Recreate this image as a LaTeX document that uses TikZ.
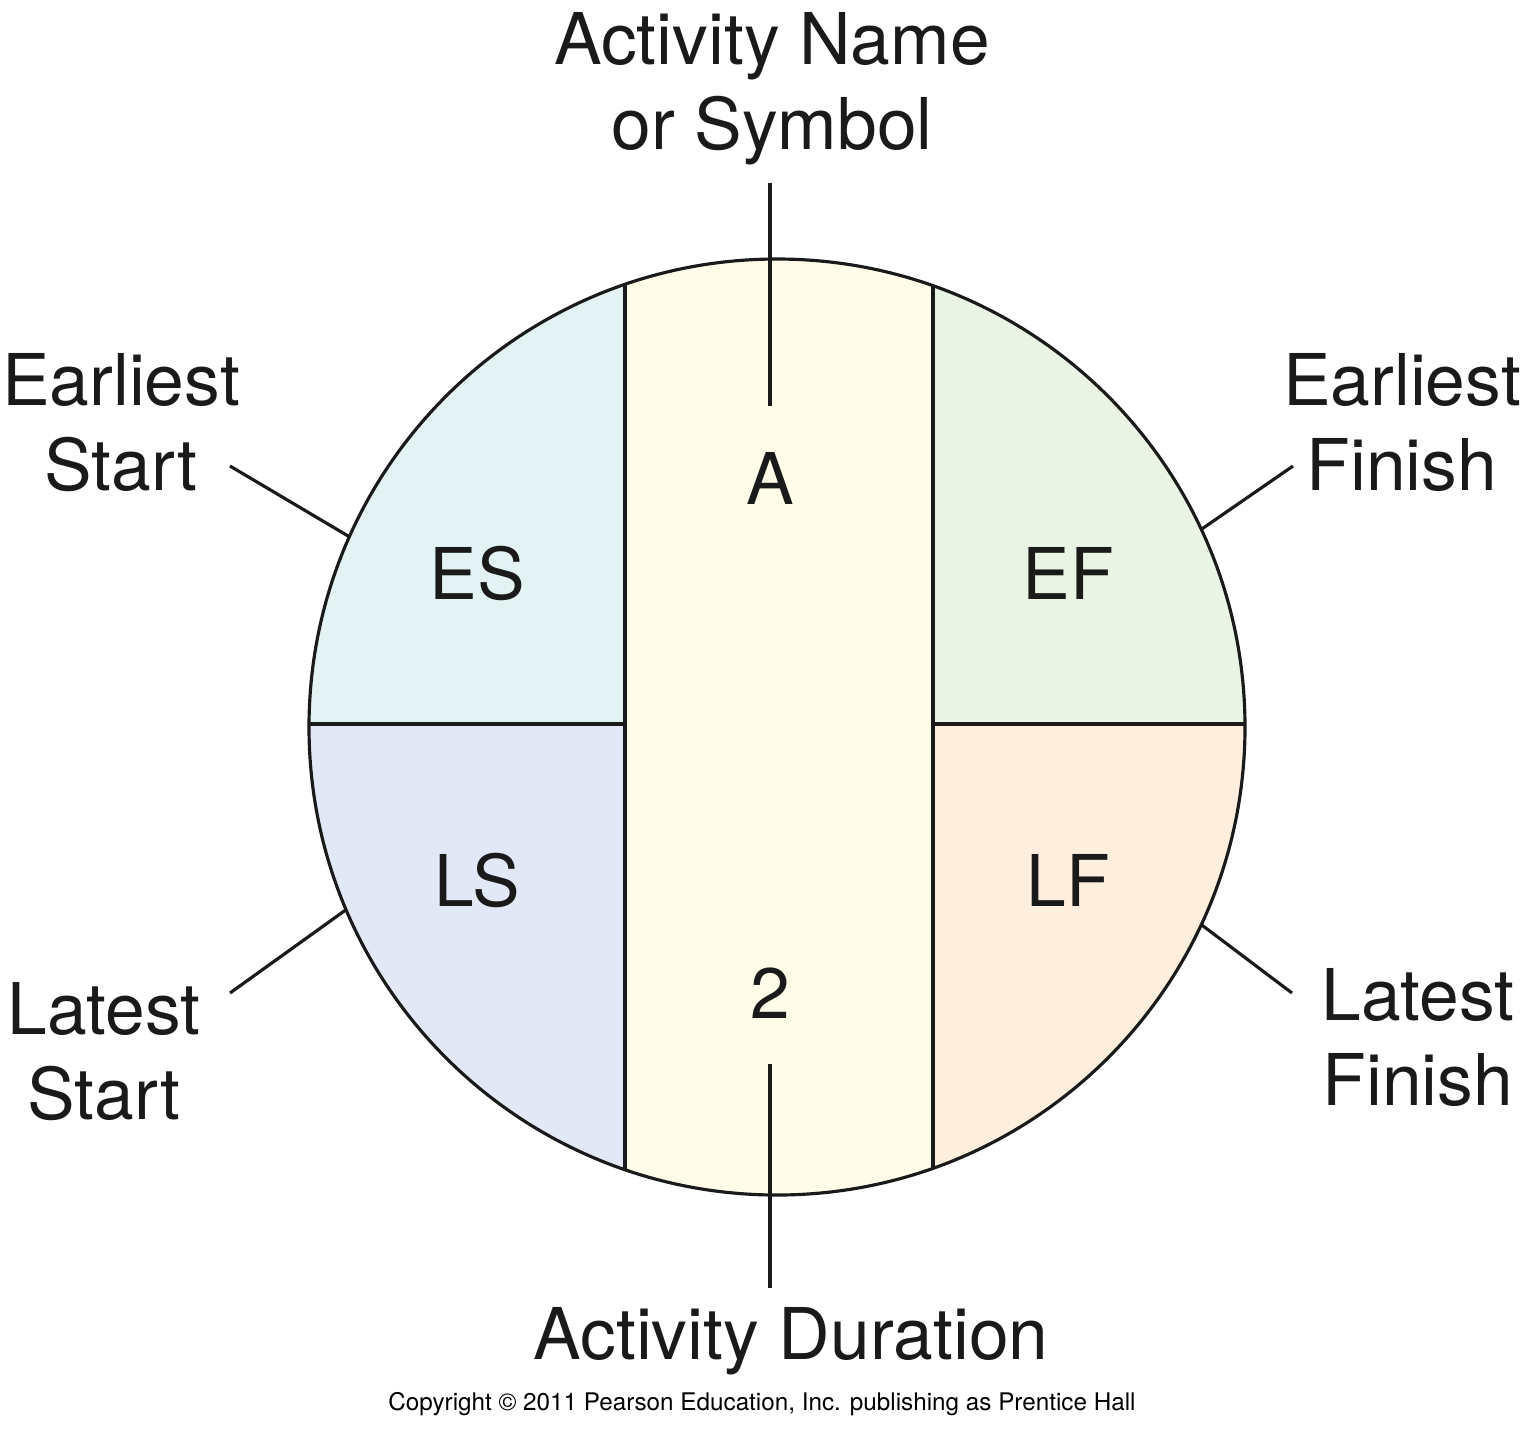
\documentclass[tikz,border=0pt]{standalone}
\usepackage{fontspec}
\setmainfont{TeX Gyre Heros}

\definecolor{esfill}{HTML}{E3F2F2}
\definecolor{effill}{HTML}{E9F4E4}
\definecolor{lsfill}{HTML}{E2E8F6}
\definecolor{lffill}{HTML}{FEEEDD}
\definecolor{midfill}{HTML}{FFFCEA}
\definecolor{ink}{HTML}{1A1A1A}

\tikzset{
  bigtext/.style={font=\fontsize{20.3}{24.2}\selectfont, text=ink, inner sep=0pt},
  tag/.style={bigtext, align=center, anchor=north},
  cell/.style={bigtext},
  lead/.style={draw=ink, line width=0.9pt},
}

\begin{document}
\begin{tikzpicture}[x=0.01cm, y=-0.01cm]
  \useasboundingbox (0,0) rectangle (1524,1438);

  % the activity node
  \node[circle, minimum size=9.36cm, inner sep=0pt] (act) at (777,727) {};
  \begin{scope}
    \clip (act.center) circle[radius=468];
    \fill[esfill]  (300,250) rectangle (625,724);
    \fill[effill]  (933,250) rectangle (1260,724);
    \fill[lsfill]  (300,724) rectangle (625,1210);
    \fill[lffill]  (933,724) rectangle (1260,1210);
    \fill[midfill] (625,250) rectangle (933,1210);
    \draw[lead] (625,250) -- (625,1210);
    \draw[lead] (933,250) -- (933,1210);
    \draw[lead] (300,724) -- (625,724);
    \draw[lead] (933,724) -- (1260,724);
  \end{scope}
  \draw[lead] (act.center) circle[radius=468];

  % values in the cells
  \node[cell] (aval) at (770,478) {A};
  \node[cell] (es)   at (477,573) {ES};
  \node[cell] (ef)   at (1068,573) {EF};
  \node[cell] (ls)   at (477,880) {LS};
  \node[cell] (lf)   at (1068,880) {LF};
  \node[cell] (dval) at (770,993) {2};

  % labels round the node
  \node[tag] (name) at (772,12) {Activity Name\\or Symbol};
  \node[tag] (estag) at (121,353) {Earliest\\Start};
  \node[tag] (eftag) at (1402,353) {Earliest\\Finish};
  \node[tag] (lstag) at (104,982) {Latest\\Start};
  \node[tag] (lftag) at (1418,968) {Latest\\Finish};
  \node[bigtext, anchor=base] (dur) at (791,1359) {Activity Duration};
  \node[font=\fontsize{6.9}{8}\selectfont, inner sep=0pt] (copy) at (762,1404)
    {Copyright \textcopyright{} 2011 Pearson Education, Inc. publishing as Prentice Hall};

  % leader lines
  \coordinate (esend) at (230,466);
  \coordinate (efend) at (1293,466);
  \coordinate (lsend) at (230,993);
  \coordinate (lfend) at (1292,993);
  \draw[lead, shorten <=0.17cm, shorten >=0.45cm] (aval.north |- name.south) -- (aval.north);
  \draw[lead, shorten <=0.45cm, shorten >=0.18cm] (dval.south) -- (dval.south |- dur.north);
  \draw[lead] (esend) -- (act.156.7);
  \draw[lead] (efend) -- (act.25.4);
  \draw[lead] (lsend) -- (act.203.8);
  \draw[lead] (lfend) -- (act.-25.7);
\end{tikzpicture}
\end{document}
